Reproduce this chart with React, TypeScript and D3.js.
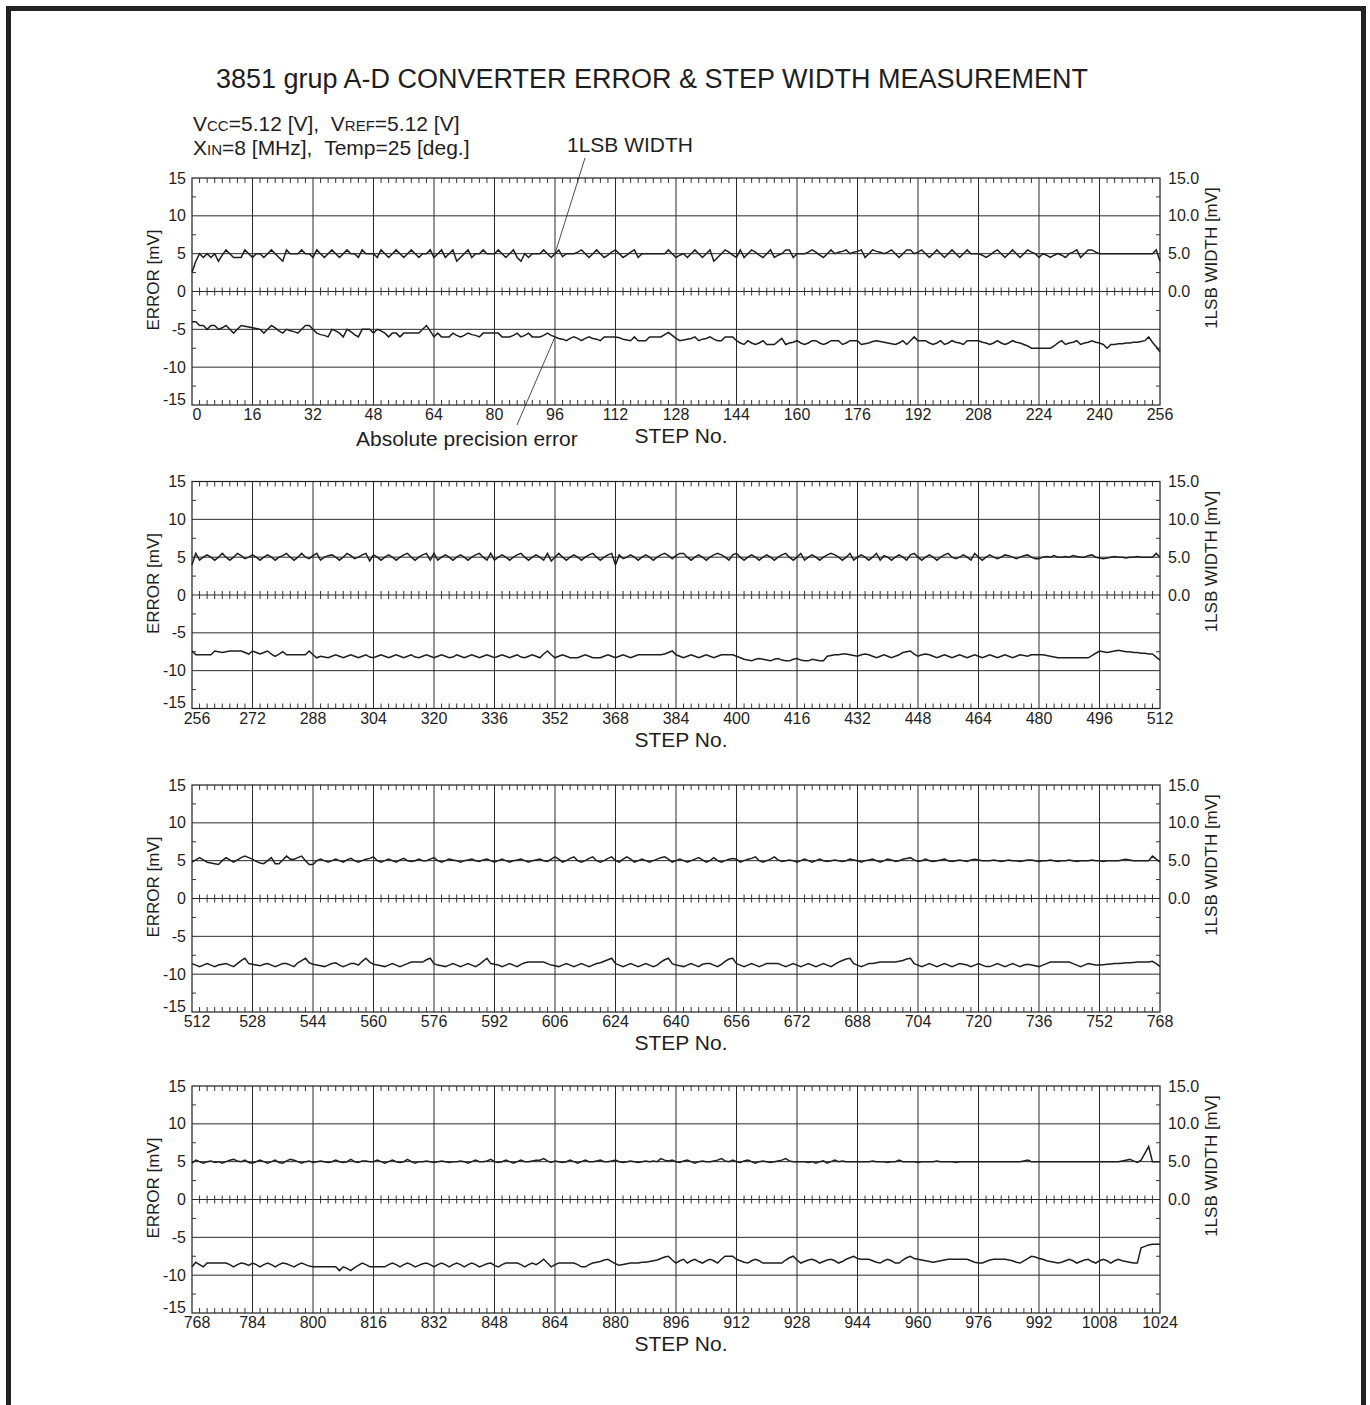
import React from "react";
import * as d3 from "d3";

const TITLE = "3851 grup A-D CONVERTER ERROR & STEP WIDTH MEASUREMENT";
const PANEL_STARTS = [0, 256, 512, 768];
const PANEL_TOPS = [178, 481.5, 785, 1086];
const X_LABELS_1 = ["0", "16", "32", "48", "64", "80", "96", "112", "128", "144", "160", "176", "192", "208", "224", "240", "256"];
const X_LABELS_2 = ["256", "272", "288", "304", "320", "336", "352", "368", "384", "400", "416", "432", "448", "464", "480", "496", "512"];
const X_LABELS_3 = ["512", "528", "544", "560", "576", "592", "606", "624", "640", "656", "672", "688", "704", "720", "736", "752", "768"];
const X_LABELS_4 = ["768", "784", "800", "816", "832", "848", "864", "880", "896", "912", "928", "944", "960", "976", "992", "1008", "1024"];
const Y_LEFT_TICKS = [15, 10, 5, 0, -5, -10, -15];
const Y_RIGHT_TICKS = [15, 10, 5, 0];
const Y_RIGHT_LABELS = ["15.0", "10.0", "5.0", "0.0"];
const Y_GRID = [10, 5, 0, -5, -10];
const Y_MINOR = [12.5, 7.5, 2.5, -2.5, -7.5, -12.5];

// 1LSB width [mV], steps 0..256
const W1 = [
  2.5, 4, 5, 4.5, 5, 4.5, 5, 4, 4.8, 5.5, 5, 4.5, 4.5, 4.5, 5.5, 5,
  4.5, 5, 5, 4.5, 5, 5.5, 5, 4.5, 4, 5.5, 5, 5, 5, 5.5, 5, 5,
  4.5, 5.5, 5, 4.5, 5, 5.5, 5, 4.5, 5, 5.5, 5, 5, 4.5, 5.5, 5, 5,
  5, 4.5, 5.5, 5, 4.5, 5, 5.5, 5, 4.5, 5, 5.5, 5, 4.5, 5, 5, 5.5,
  4.5, 5, 5.5, 4.5, 5, 5.5, 4, 4.5, 5, 5.5, 4.5, 5, 5, 5.5, 5, 5,
  5, 5.5, 5, 4.5, 5, 5.5, 4.5, 4, 5, 4.5, 5, 5, 5, 5.5, 5, 4.5,
  5, 5.5, 4.6, 5, 5, 5, 5.2, 5.5, 5, 4.5, 5, 5.5, 5, 4.5, 4.8, 5.2,
  5.5, 5, 4.5, 4.8, 5.2, 5.5, 4.5, 5, 5, 5, 5, 5, 5, 5, 5.5, 5,
  4.5, 4.8, 5, 4.5, 5, 5.5, 5, 4.5, 5, 5.5, 4, 4.5, 5, 5.5, 5.2, 4.8,
  4.5, 5.5, 4.5, 5, 5.5, 5.2, 4.8, 4.5, 5, 5.5, 4.5, 4.8, 5, 5.5, 5.5, 4.5,
  5, 5, 5, 5.2, 5.5, 5.2, 4.8, 4.5, 5, 5.5, 5, 5.2, 5.3, 5.5, 5, 5.2,
  5.3, 5.5, 4.5, 5, 5.5, 5.3, 5.2, 5, 5.2, 5.5, 5, 4.5, 5, 5.5, 5.5, 5,
  5.2, 5.5, 5, 4.5, 5, 5.5, 5, 4.5, 5, 5.5, 5, 4.5, 5, 5.5, 5, 5,
  5, 4.8, 4.5, 4.8, 5.2, 5.5, 5, 4.5, 5, 5.5, 5, 4.5, 5, 5.5, 5.2, 5,
  4.5, 5, 4.8, 4.5, 4.8, 5, 4.8, 4.5, 5, 5.2, 5.5, 4.5, 5, 5.5, 5.5, 5.2,
  5, 5, 5, 5, 5, 5, 5, 5, 5, 5, 5, 5, 5, 5, 5, 5.5,
  4
];
// Absolute precision error [mV], steps 0..256
const E1 = [
  -4, -4, -4.5, -4.5, -5, -4.5, -4.5, -5, -4.8, -4.5, -5, -5.5, -5, -4.5, -4.6, -4.7,
  -4.8, -4.9, -5, -5.5, -5, -4.5, -4.8, -5.2, -5.5, -5, -5.2, -5.3, -5.5, -5, -4.5, -4.5,
  -5, -5.5, -5.7, -5.8, -6, -5, -5.2, -5.5, -6, -5, -5.3, -5.7, -6, -5, -5, -5,
  -5.5, -5, -5.2, -5.5, -6, -5.5, -5.5, -6, -5.5, -5.5, -5.5, -5.5, -5.5, -5, -4.5, -5.2,
  -6, -5.5, -6, -6, -6, -5.5, -5.8, -6, -5.8, -5.5, -5.7, -5.8, -6, -5.5, -5.5, -5.5,
  -5.5, -5.5, -6, -6, -6, -5.8, -5.5, -6, -5.8, -5.5, -6, -6, -6, -5.8, -5.5, -5.8,
  -6, -6.2, -6.3, -6.5, -6.2, -6, -6.2, -6.5, -6.2, -6, -6.2, -6.3, -6.5, -6, -6, -6,
  -6, -6.1, -6.3, -6.4, -6.5, -6, -6.5, -6.5, -6.5, -6, -6, -6, -6, -5.7, -5.4, -5.8,
  -6.2, -6.5, -6.4, -6.3, -6.2, -6, -6.5, -6.3, -6.2, -6, -6.3, -6.5, -6.5, -6, -6, -6,
  -6.5, -6.8, -7, -6.5, -6.8, -7, -6.8, -6.5, -7, -7, -7, -6.6, -6.2, -7, -6.8, -6.7,
  -6.5, -6.8, -7, -6.8, -6.5, -6.5, -6.8, -7, -6.8, -6.5, -6.5, -6.5, -7, -6.8, -6.5, -6.5,
  -6.5, -7, -6.9, -6.8, -6.6, -6.5, -6.6, -6.7, -6.8, -6.9, -7, -6.8, -6.5, -7, -6.5, -6,
  -6.5, -6.5, -6.5, -6.8, -7, -6.8, -6.5, -7, -6.8, -6.5, -6.7, -6.8, -7, -6.5, -6.5, -6.5,
  -6.5, -6.7, -6.8, -7, -6.8, -6.5, -6.8, -7, -6.8, -6.5, -6.7, -6.8, -7, -7.2, -7.5, -7.5,
  -7.5, -7.5, -7.5, -7.5, -7.2, -6.8, -6.5, -7, -6.8, -6.7, -6.5, -7, -6.8, -6.7, -6.5, -6.7,
  -6.8, -7, -7.5, -7, -7, -6.9, -6.9, -6.8, -6.8, -6.7, -6.7, -6.6, -6.5, -6, -6.7, -7.3,
  -8
];
const W2 = [
  4, 5.5, 4.6, 5, 5.3, 5, 4.6, 5, 5.5, 5, 4.6, 5, 5.5, 5.2, 4.8, 5,
  5.3, 5, 4.6, 5, 5.3, 5, 4.6, 5, 5.2, 5.5, 5, 4.6, 5, 5.5, 5, 4.8,
  5.2, 5.5, 4.6, 5, 5.2, 5.3, 5, 4.6, 5, 5.5, 5.2, 4.8, 5, 5.3, 5.5, 4.5,
  5.3, 5, 4.6, 5, 5.3, 5, 4.6, 5, 5.3, 5.5, 5, 4.6, 5, 5.3, 5.5, 4.6,
  5.5, 4.6, 5, 5.3, 5, 4.6, 5, 5.3, 5, 4.6, 5, 5.3, 5.5, 5, 4.6, 5.5,
  4.6, 5, 5.3, 5, 4.6, 5, 5.3, 5.5, 5, 4.6, 5, 5.3, 5, 4.6, 5.5, 4.5,
  5, 5.5, 5, 4.6, 5, 5.3, 5, 4.6, 5, 5.3, 5.5, 5, 4.6, 5, 5.3, 5.5,
  4, 5.3, 4.8, 5, 5.3, 5, 4.6, 5, 5.3, 5, 4.6, 5, 5.3, 5.5, 5.2, 4.8,
  5.2, 5.5, 5.5, 5, 4.6, 5, 5.3, 5, 4.6, 5, 5.3, 5.5, 5.3, 5, 4.6, 5.3,
  5.5, 5, 4.6, 5, 5.3, 5, 4.6, 5, 5.3, 5, 4.6, 5, 5.3, 5.5, 5, 4.6,
  5, 5.5, 4.6, 5, 5.3, 5, 4.6, 5, 5.3, 5.5, 5.3, 5, 4.6, 5, 5.5, 4.6,
  5, 5.3, 5, 4.6, 5, 5.5, 4.6, 5.2, 5, 4.6, 5, 5.3, 5, 4.6, 5.3, 5.5,
  5, 4.6, 5, 5.3, 5, 4.6, 5, 5.3, 5.5, 5, 4.8, 5, 5.3, 5, 4.6, 5.5,
  5, 4.6, 5, 5.3, 5, 4.8, 5, 5.3, 5.2, 5, 4.8, 5, 5.2, 5.3, 5, 4.8,
  4.8, 5, 5.1, 5, 5.2, 5, 5, 5.1, 5, 5.2, 5.1, 5, 5, 5.2, 5.3, 5,
  4.9, 4.8, 4.9, 5, 5.1, 5, 5, 4.9, 5, 5, 5.1, 5, 5, 5, 5, 5.5,
  5
];
const E2 = [
  -7.4, -7.9, -7.9, -7.9, -7.9, -7.9, -7.4, -7.5, -7.6, -7.5, -7.4, -7.4, -7.4, -7.4, -7.6, -7.8,
  -7.4, -7.6, -7.8, -7.6, -7.4, -7.8, -8.1, -7.8, -7.5, -7.9, -7.9, -7.9, -7.9, -7.9, -7.9, -7.4,
  -7.9, -8.3, -8.1, -8.2, -8.3, -8.1, -7.9, -8.1, -8.3, -8.1, -7.9, -8.1, -8.3, -8.1, -7.9, -8.2,
  -8.3, -8.1, -7.9, -8.1, -8.3, -8.1, -7.9, -8.1, -8.3, -8.1, -7.9, -8.2, -8.3, -8.1, -7.9, -8.1,
  -8.3, -8.1, -7.9, -8.1, -8.3, -8.2, -7.9, -8.1, -8.3, -8.1, -7.9, -8.1, -8.3, -8.1, -7.9, -8.1,
  -8.3, -8.1, -7.9, -8.1, -8.3, -8.1, -7.9, -8.2, -8.3, -8.1, -7.9, -8.1, -8.3, -7.8, -7.4, -7.9,
  -8.3, -8.1, -7.9, -8.1, -8.3, -8.3, -8.3, -8.1, -7.9, -8.1, -8.3, -8.3, -8.3, -8.1, -7.9, -8.1,
  -8.3, -8.1, -7.9, -8.1, -8.3, -8.1, -7.9, -7.9, -7.9, -7.9, -7.9, -7.9, -7.9, -7.8, -7.6, -7.4,
  -7.9, -8.1, -8.3, -8.1, -7.9, -8.1, -8.3, -8.1, -7.9, -8.1, -8.3, -8.1, -7.9, -7.9, -7.9, -7.9,
  -8.1, -8.3, -8.5, -8.6, -8.7, -8.5, -8.4, -8.5, -8.6, -8.7, -8.5, -8.4, -8.6, -8.7, -8.7, -8.5,
  -8.4, -8.6, -8.7, -8.7, -8.5, -8.6, -8.7, -8.7, -8.1, -8, -7.9, -7.9, -7.8, -7.8, -7.9, -8,
  -8.1, -7.9, -7.8, -7.9, -8.1, -8.3, -8.1, -7.9, -8.1, -8.3, -8.1, -7.9, -7.6, -7.5, -7.4, -7.8,
  -8.1, -7.9, -7.8, -7.9, -8.1, -8.3, -8.1, -7.9, -8.1, -8.3, -8.1, -7.9, -8.1, -8.3, -8.1, -7.9,
  -8.1, -8.3, -8.1, -7.9, -8.1, -8.3, -8.1, -7.9, -8.1, -8.3, -8.1, -7.9, -8, -8.1, -7.9, -7.9,
  -7.9, -7.9, -8, -8.1, -8.2, -8.3, -8.3, -8.3, -8.3, -8.3, -8.3, -8.3, -8.3, -8.3, -8, -7.7,
  -7.4, -7.5, -7.6, -7.5, -7.4, -7.3, -7.4, -7.5, -7.5, -7.6, -7.6, -7.7, -7.7, -7.8, -7.8, -8.2,
  -8.6
];
const W3 = [
  4.8, 5.1, 5.4, 5.1, 4.8, 4.7, 4.6, 4.5, 5, 5.4, 5.1, 4.8, 5.1, 5.4, 5.6, 5.4,
  5.2, 4.9, 4.7, 4.6, 5, 5.4, 4.6, 4.6, 5.1, 5.6, 5.2, 5.2, 5.4, 5.6, 5, 4.5,
  4.5, 5, 5.2, 5, 4.8, 5, 5.2, 5, 4.8, 5.1, 5.3, 5, 4.8, 5, 5.2, 5.3,
  5.5, 5, 4.8, 5, 5.2, 5, 4.8, 5.1, 5.3, 5, 4.9, 5, 5.2, 5, 5, 5.2,
  5.4, 5, 4.8, 5, 5.2, 5.1, 5, 4.8, 5, 5.1, 5.2, 5, 4.9, 5.1, 5.2, 5,
  4.8, 5, 5.2, 5, 4.8, 5, 5.1, 5.2, 5, 4.8, 5, 5.1, 5.2, 5, 4.9, 5.2,
  5.5, 5.2, 4.8, 5, 5.3, 5.5, 5, 4.8, 5, 5.3, 5.5, 5, 4.8, 5, 5.3, 5.5,
  5, 4.8, 5.2, 5.5, 5.2, 4.8, 5, 5.2, 5, 4.8, 5, 5.2, 5.4, 5.5, 5.2, 4.8,
  5, 5.2, 5, 4.8, 5, 5.2, 5.4, 5.1, 4.8, 5, 5.4, 5, 4.8, 5, 5.2, 5.3,
  5.2, 4.8, 5, 5.2, 5.3, 5.5, 5, 4.8, 5, 5.2, 5.5, 5.1, 4.9, 5, 5.1, 5,
  4.8, 5, 5.2, 5, 4.8, 5, 5.2, 5, 4.9, 5, 5.1, 5, 4.9, 5, 5.2, 5.1,
  5, 4.8, 5, 5.1, 5.2, 5, 4.8, 5, 5.2, 5.1, 4.9, 5, 5.2, 5.3, 5.4, 5.1,
  4.9, 5, 5.2, 5, 4.9, 5, 5.1, 5.2, 5, 4.9, 5, 5.1, 5, 4.9, 5.1, 5.2,
  5.1, 5, 5, 5, 5.1, 5, 4.9, 5, 5.1, 5, 5, 4.9, 5, 5.1, 5.1, 5,
  4.9, 5, 5, 5.1, 5, 4.9, 5, 5, 5.1, 5, 4.9, 5, 5, 5, 5.1, 5,
  5, 4.9, 5, 5, 5, 5, 5.1, 5.2, 5.1, 5, 5, 5, 5, 5, 5.6, 5.2,
  4.8
];
const E3 = [
  -8.6, -8.8, -9, -8.8, -8.6, -8.8, -9, -8.8, -8.7, -8.6, -8.8, -9, -8.6, -8.2, -7.9, -8.6,
  -8.7, -8.8, -8.9, -8.7, -8.6, -8.8, -9, -8.8, -8.6, -8.6, -8.8, -9, -8.5, -8.2, -7.9, -8.5,
  -8.7, -8.8, -8.9, -9, -8.8, -8.6, -8.5, -8.8, -9, -8.8, -8.6, -8.6, -8.8, -8.3, -7.9, -8.4,
  -8.7, -8.8, -8.9, -9, -8.8, -8.6, -8.8, -9, -8.8, -8.6, -8.4, -8.4, -8.4, -8.4, -8.1, -7.9,
  -8.6, -8.8, -8.9, -9, -8.8, -8.6, -8.8, -9, -8.8, -8.6, -8.8, -9, -8.7, -8.3, -7.9, -8.6,
  -8.7, -8.8, -9, -8.8, -8.6, -8.8, -9, -8.7, -8.5, -8.4, -8.4, -8.4, -8.4, -8.4, -8.6, -8.8,
  -8.9, -9, -8.8, -8.6, -8.8, -9, -8.8, -8.6, -8.8, -9, -8.8, -8.6, -8.5, -8.3, -8.1, -7.9,
  -8.6, -8.8, -9, -8.8, -8.6, -8.8, -9, -8.8, -8.6, -8.8, -9, -8.8, -8.4, -8.1, -7.9, -8.6,
  -8.8, -8.9, -9, -8.8, -8.6, -8.8, -9, -8.7, -8.6, -8.6, -8.8, -9, -8.7, -8.3, -8, -7.9,
  -8.6, -8.8, -9, -8.8, -8.6, -8.8, -9, -8.8, -8.6, -8.6, -8.6, -8.6, -8.8, -9, -8.8, -8.6,
  -8.8, -9, -8.8, -8.6, -8.8, -9, -8.8, -8.6, -8.8, -9, -8.7, -8.4, -8.2, -8, -7.9, -8.6,
  -8.8, -9, -8.8, -8.6, -8.6, -8.5, -8.4, -8.4, -8.4, -8.4, -8.4, -8.3, -8.2, -8, -7.9, -8.6,
  -8.8, -9, -8.8, -8.6, -8.8, -9, -8.8, -8.6, -8.8, -9, -8.8, -8.6, -8.7, -8.8, -9, -8.8,
  -8.6, -8.8, -9, -9, -8.8, -8.6, -8.8, -9, -8.8, -8.6, -8.8, -9, -8.8, -8.7, -8.8, -8.9,
  -9, -8.8, -8.6, -8.4, -8.4, -8.4, -8.4, -8.4, -8.4, -8.6, -8.8, -9, -8.8, -8.6, -8.7, -8.8,
  -8.8, -8.75, -8.7, -8.65, -8.6, -8.6, -8.55, -8.5, -8.5, -8.45, -8.4, -8.4, -8.4, -8.4, -8.3, -8.6,
  -9
];
const W4 = [
  4.8, 5.2, 5, 4.8, 5, 5.1, 4.9, 5, 4.8, 5, 5.2, 5.3, 5.1, 5, 5.2, 4.9,
  4.8, 5, 5.2, 5, 4.8, 5, 5.2, 4.9, 4.8, 5.1, 5.3, 5.2, 5, 4.8, 5, 5.1,
  4.9, 5, 5.1, 5, 4.9, 5, 5.2, 5, 4.9, 5, 5.3, 5, 4.9, 5.1, 5.1, 5,
  5, 5.2, 5, 4.8, 5, 5.2, 5, 4.9, 5, 5.3, 5, 4.8, 5, 5, 5.1, 5,
  4.9, 5, 5.1, 5, 4.9, 5, 5, 5.1, 5, 4.8, 5, 5.2, 5, 5, 5.1, 5.3,
  5, 4.9, 5, 5.2, 5, 4.8, 5, 5.2, 5, 5, 5.1, 5.2, 5.2, 5.4, 5.1, 4.9,
  5.1, 5, 4.9, 5, 5.2, 5, 4.8, 5, 5.2, 5, 5, 5.1, 5.2, 5, 5, 5.1,
  5.2, 5, 4.9, 5, 5.1, 5, 4.9, 5, 5.1, 5, 5.1, 5, 5.4, 5.2, 5.1, 5.2,
  5, 4.9, 5.1, 5.2, 5, 4.8, 5, 5.1, 5, 5, 5.1, 5.2, 5.4, 5.1, 5, 5.2,
  5, 4.9, 5.1, 5.2, 5, 4.8, 5, 5.1, 5, 4.9, 5, 5.1, 5.2, 5.4, 5.1, 5,
  5, 5, 5, 4.9, 5, 4.8, 5, 5.1, 4.8, 5, 5.2, 5, 5.1, 5, 5, 5,
  5, 5, 5, 5, 5.1, 5, 5, 5, 4.9, 5, 5, 5.2, 5, 5, 5, 5,
  4.9, 5, 5, 5, 5, 5.1, 5, 5, 5, 5, 4.9, 5, 5, 5, 5, 5,
  5, 5, 5, 5, 5, 5, 5, 5, 5, 5, 5, 5, 5.1, 5.2, 5, 5,
  5, 5, 5, 5, 5, 5, 5, 5, 5, 5, 5, 5, 5, 5, 5, 5,
  5, 5, 5, 5, 5, 5, 5.1, 5.2, 5.3, 5.1, 4.9, 5.2, 6.1, 7, 5, 5,
  5
];
const E4 = [
  -8.9, -8.3, -8.6, -8.9, -8.4, -8.4, -8.4, -8.4, -8.4, -8.4, -8.6, -8.9, -8.6, -8.4, -8.5, -8.7,
  -8.4, -8.6, -8.9, -8.6, -8.4, -8.6, -8.9, -8.6, -8.4, -8.5, -8.7, -8.9, -8.6, -8.4, -8.6, -8.8,
  -8.9, -8.9, -8.9, -8.9, -8.9, -8.9, -8.9, -9.4, -8.9, -9.1, -9.4, -9, -8.7, -8.4, -8.6, -8.9,
  -8.9, -8.9, -8.9, -8.9, -8.6, -8.4, -8.6, -8.9, -8.6, -8.4, -8.6, -8.9, -8.7, -8.5, -8.4, -8.6,
  -8.9, -8.6, -8.4, -8.6, -8.9, -8.6, -8.4, -8.6, -8.9, -8.6, -8.4, -8.6, -8.9, -8.7, -8.5, -8.4,
  -8.7, -8.9, -8.6, -8.4, -8.4, -8.4, -8.4, -8.6, -8.9, -8.6, -8.4, -8.6, -8.3, -7.9, -8.4, -8.9,
  -8.6, -8.4, -8.4, -8.4, -8.4, -8.4, -8.6, -8.9, -8.9, -8.6, -8.4, -8.3, -8.2, -8, -7.9, -8.2,
  -8.5, -8.7, -8.6, -8.5, -8.4, -8.4, -8.4, -8.3, -8.3, -8.2, -8.1, -8, -7.8, -7.6, -7.5, -8,
  -8.4, -8.1, -7.9, -8.4, -8.1, -7.9, -8.2, -8.4, -8.1, -7.9, -8.1, -8.4, -7.9, -7.5, -7.5, -7.5,
  -7.9, -8.1, -8.3, -8.4, -8.1, -7.9, -8.1, -8.4, -8.4, -8.4, -8.4, -8.4, -8.4, -8, -7.7, -7.5,
  -8, -8.4, -8.2, -8, -7.9, -8.1, -8.4, -8.2, -8, -7.9, -8.1, -8.4, -8.2, -7.9, -7.7, -7.5,
  -7.8, -7.9, -7.9, -7.9, -8.1, -8.3, -8.4, -8.1, -7.9, -8.1, -8.4, -8.4, -8, -7.7, -7.5, -7.8,
  -7.9, -8, -8.1, -8.2, -8.3, -8.2, -8.1, -8, -7.9, -7.9, -7.9, -7.9, -7.9, -7.9, -8.1, -8.3,
  -8.4, -8.4, -8.2, -8, -7.9, -7.9, -7.9, -7.9, -8, -8.1, -8.3, -8.4, -8.1, -7.8, -7.5, -7.6,
  -7.8, -7.9, -8.1, -8.2, -8.3, -8.4, -8.3, -8.1, -7.9, -8.1, -8.4, -8.2, -8, -7.9, -8.2, -8.4,
  -8.1, -7.9, -8.1, -8.4, -8.1, -7.9, -8.1, -8.2, -8.3, -8.4, -8.4, -6.4, -6.2, -6, -5.9, -5.9,
  -5.9
];

const WIDTHS = [W1, W2, W3, W4];
const ERRORS = [E1, E2, E3, E4];
const X_LABELS = [X_LABELS_1, X_LABELS_2, X_LABELS_3, X_LABELS_4];

const FONT = "'Liberation Sans', Arial, Helvetica, sans-serif";
const LEFT = 192;
const RIGHT = 1160;
const PH = 227;
const INK = "#1e1e1e";
const TICK_FS = 16;

function Panel({ idx }: { idx: number }) {
  const start = PANEL_STARTS[idx];
  const top = PANEL_TOPS[idx];
  const x = d3.scaleLinear().domain([start, start + 256]).range([LEFT, RIGHT]);
  const y = d3.scaleLinear().domain([-15, 15]).range([top + PH, top]);
  const line = d3
    .line<number>()
    .x((_, i) => x(start + i))
    .y((d) => y(d));
  const majors = d3.range(start + 16, start + 256, 16);
  const minors = d3.range(start + 2, start + 256, 2).filter((s) => (s - start) % 16 !== 0);
  const labelStarts = d3.range(start, start + 257, 16);
  const y0 = y(0);
  return (
    <g>
      {majors.map((s) => (
        <line key={"v" + s} x1={x(s)} x2={x(s)} y1={top} y2={top + PH} stroke="#2a2a2a" strokeWidth={1} />
      ))}
      {Y_GRID.map((v) => (
        <line key={"h" + v} x1={LEFT} x2={RIGHT} y1={y(v)} y2={y(v)} stroke="#2a2a2a" strokeWidth={1} />
      ))}
      <rect x={LEFT} y={top} width={RIGHT - LEFT} height={PH} fill="none" stroke={INK} strokeWidth={1.2} />
      {minors.map((s) => (
        <g key={"t" + s} stroke="#333" strokeWidth={1}>
          <line x1={x(s)} x2={x(s)} y1={top} y2={top + 5} />
          <line x1={x(s)} x2={x(s)} y1={y0 - 4} y2={y0 + 4} />
          <line x1={x(s)} x2={x(s)} y1={top + PH} y2={top + PH - 5} />
        </g>
      ))}
      {Y_MINOR.map((v) => (
        <g key={"ym" + v} stroke="#333" strokeWidth={1}>
          <line x1={LEFT} x2={LEFT + 4} y1={y(v)} y2={y(v)} />
          <line x1={RIGHT} x2={RIGHT - 4} y1={y(v)} y2={y(v)} />
        </g>
      ))}
      <path d={line(WIDTHS[idx]) || ""} fill="none" stroke={INK} strokeWidth={1.5} />
      <path d={line(ERRORS[idx]) || ""} fill="none" stroke={INK} strokeWidth={1.5} />
      {Y_LEFT_TICKS.map((v) => (
        <text key={"yl" + v} x={LEFT - 6} y={y(v) + (v === -15 ? -6 : 0)} dy="0.35em" textAnchor="end" fontSize={TICK_FS} fontFamily={FONT} fill={INK}>
          {v}
        </text>
      ))}
      {Y_RIGHT_TICKS.map((v, i) => (
        <text key={"yr" + v} x={RIGHT + 8} y={y(v)} dy="0.35em" textAnchor="start" fontSize={TICK_FS} fontFamily={FONT} fill={INK}>
          {Y_RIGHT_LABELS[i]}
        </text>
      ))}
      {labelStarts.map((s, i) => (
        <text key={"xl" + s} x={x(s) + (i === 0 ? 5 : 0)} y={top + PH + 15} textAnchor="middle" fontSize={TICK_FS} fontFamily={FONT} fill={INK}>
          {X_LABELS[idx][i]}
        </text>
      ))}
      <text x={681} y={top + PH + 38} textAnchor="middle" fontSize={21} fontFamily={FONT} fill={INK}>
        STEP No.
      </text>
      <text transform={`translate(${159},${top + 102}) rotate(-90)`} textAnchor="middle" fontSize={17} fontFamily={FONT} fill={INK}>
        ERROR [mV]
      </text>
      <text transform={`translate(${1217},${top + 80}) rotate(-90)`} textAnchor="middle" fontSize={17} fontFamily={FONT} fill={INK}>
        1LSB WIDTH [mV]
      </text>
    </g>
  );
}

export default function App() {
  const x0 = d3.scaleLinear().domain([0, 256]).range([LEFT, RIGHT]);
  const y0 = d3.scaleLinear().domain([-15, 15]).range([PANEL_TOPS[0] + PH, PANEL_TOPS[0]]);
  return (
    <svg width={1370} height={1405} style={{ position: "absolute", left: 0, top: 0, background: "#fff" }} xmlns="http://www.w3.org/2000/svg">
      <rect x={0} y={0} width={1370} height={1405} fill="#fff" />
      <rect x={8.5} y={8.5} width={1355} height={1430} fill="none" stroke="#222" strokeWidth={5} />
      <text x={652} y={88} textAnchor="middle" fontSize={27} fontFamily={FONT} fill={INK}>
        {TITLE}
      </text>
      <text x={193} y={131} fontSize={21} fontFamily={FONT} fill={INK}>
        V<tspan fontSize={15}>CC</tspan>=5.12 [V],{"\u00a0\u00a0"}V<tspan fontSize={15}>REF</tspan>=5.12 [V]
      </text>
      <text x={193} y={155} fontSize={21} fontFamily={FONT} fill={INK}>
        X<tspan fontSize={15}>IN</tspan>=8 [MHz],{"\u00a0\u00a0"}Temp=25 [deg.]
      </text>
      <text x={567} y={152} fontSize={21} fontFamily={FONT} fill={INK}>
        1LSB WIDTH
      </text>
      <line x1={585} y1={158} x2={x0(96)} y2={y0(W1[96])} stroke={INK} strokeWidth={0.8} />
      <line x1={517} y1={425} x2={x0(96)} y2={y0(E1[96])} stroke={INK} strokeWidth={0.8} />
      <text x={356} y={446} fontSize={21} fontFamily={FONT} fill={INK}>
        Absolute precision error
      </text>
      {PANEL_STARTS.map((_, i) => (
        <Panel key={i} idx={i} />
      ))}
    </svg>
  );
}
